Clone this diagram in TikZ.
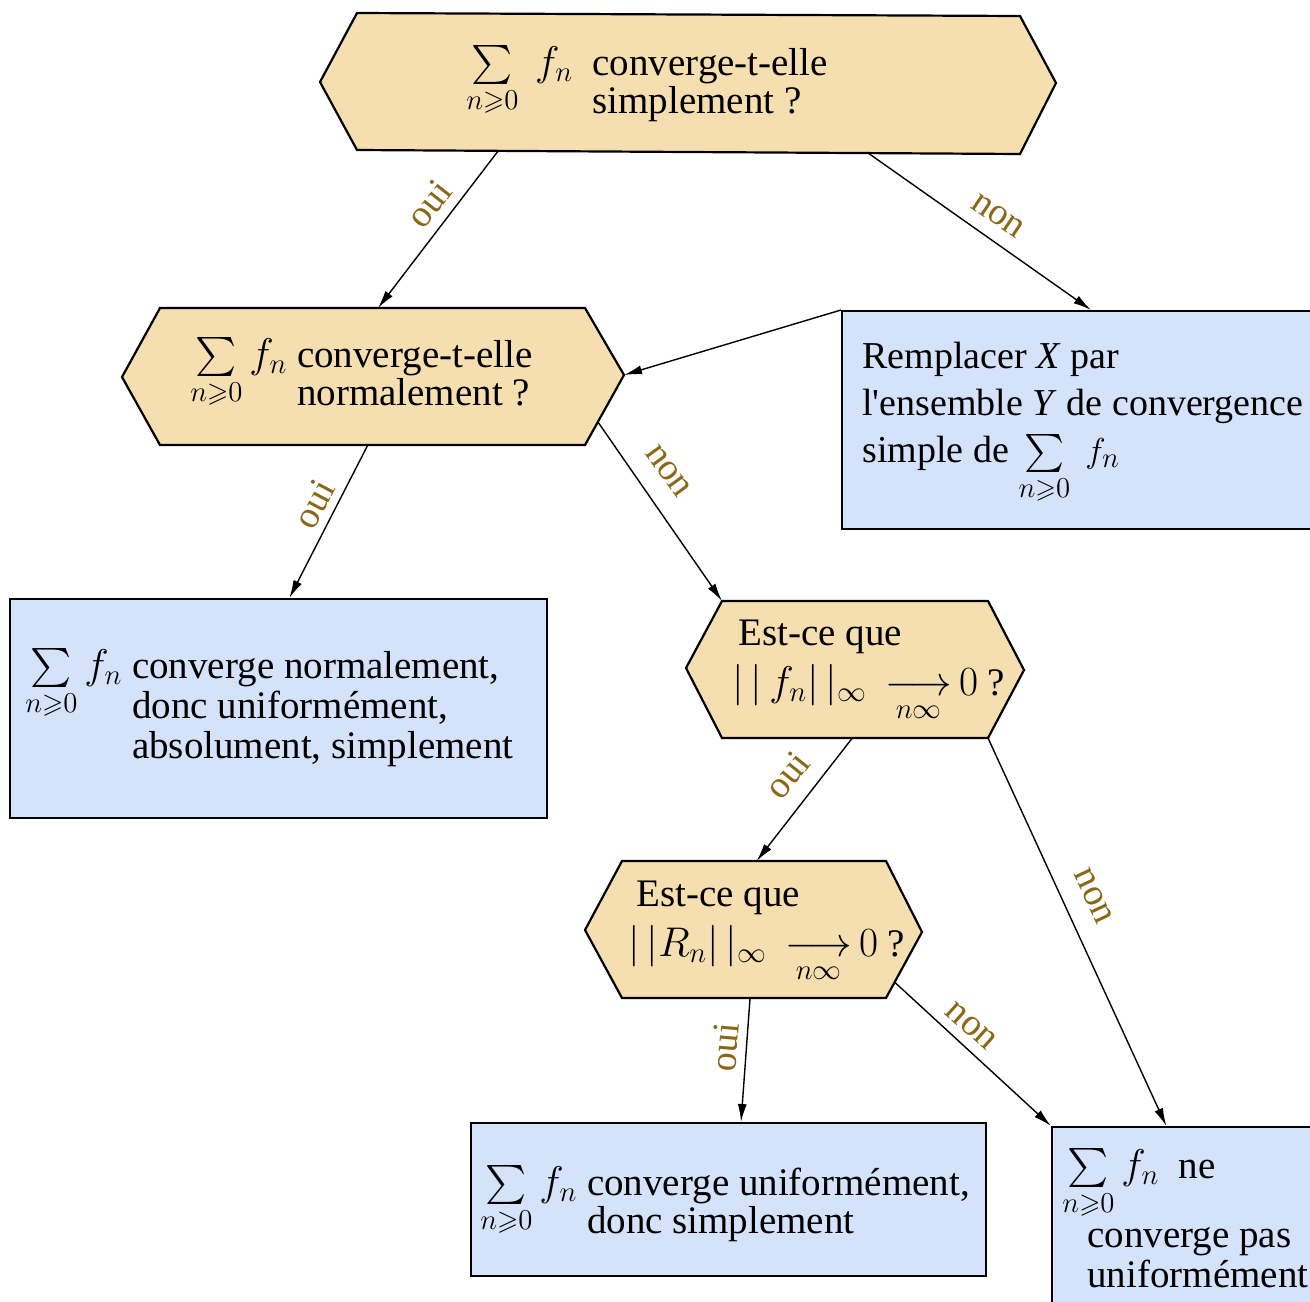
\documentclass[tikz,border=0pt]{standalone}
\usepackage{amsmath,amssymb}
\usepackage{fontspec}
\setmainfont{Liberation Serif}
\usetikzlibrary{arrows.meta,calc}
\definecolor{hexfill}{RGB}{245,222,176}
\definecolor{boxfill}{RGB}{212,226,250}
\definecolor{lblcol}{RGB}{138,104,22}
\tikzset{
  hexshape/.style={draw=black, line width=1.1pt, fill=hexfill, line join=miter},
  boxshape/.style={draw=black, line width=1.1pt, fill=boxfill, rectangle, inner sep=0pt, anchor=north west},
  arr/.style={line width=0.7pt, -{Latex[length=9pt,width=4.5pt]}},
  lbl/.style={text=lblcol, inner sep=0pt, font=\fontsize{19}{19}\selectfont},
  txt/.style={anchor=base west, inner sep=0pt, font=\fontsize{19.5}{#1}\selectfont},
}
\newcommand{\mysumn}{\sum\limits_{n\geqslant 0}}
\begin{document}
\begin{tikzpicture}[x=0.5pt,y=-0.5pt]
\useasboundingbox (0,0) rectangle (1310,1301);
\fill[white] (0,0) rectangle (1310,1301);
\clip (0,0) rectangle (1310,1301);

% ---------- shapes ----------
% H1
\draw[hexshape] (320,82) coordinate (h1w) -- (357,13) coordinate (h1nw) -- (1020,16) coordinate (h1ne)
  -- (1056,83) coordinate (h1e) -- (1020,154) coordinate (h1se) -- (357,150) coordinate (h1sw) -- cycle;
% H2
\draw[hexshape] (122,377) coordinate (h2w) -- (160,308) coordinate (h2nw) -- (585,308) coordinate (h2ne)
  -- (624,375) coordinate (h2e) -- (585,445) coordinate (h2se) -- (160,445) coordinate (h2sw) -- cycle;
% H3
\draw[hexshape] (686,668) coordinate (h3w) -- (722,601) coordinate (h3nw) -- (988,601) coordinate (h3ne)
  -- (1024,670) coordinate (h3e) -- (988,738) coordinate (h3se) -- (722,738) coordinate (h3sw) -- cycle;
% H4
\draw[hexshape] (585,930) coordinate (h4w) -- (622,861) coordinate (h4nw) -- (886,861) coordinate (h4ne)
  -- (922,932) coordinate (h4e) -- (886,998) coordinate (h4se) -- (622,998) coordinate (h4sw) -- cycle;

% boxes
\node[boxshape, minimum width=244.5pt, minimum height=109pt] (R) at (841,310) {};
\node[boxshape, minimum width=268.5pt, minimum height=109.5pt] (A) at (9,598) {};
\node[boxshape, minimum width=257.5pt, minimum height=76.5pt] (B) at (470,1122) {};
\node[boxshape, minimum width=139.5pt, minimum height=97pt] (C) at (1051,1126) {};

% ---------- texts ----------
\node[txt=18.5] (t1) at (466,75) {$\mysumn\ f_n$\ \ \begin{tabular}[t]{@{}l@{}}converge-t-elle\\simplement ?\end{tabular}};
\node[txt=19] (t2) at (190,367) {$\mysumn f_n$\ \begin{tabular}[t]{@{}l@{}}converge-t-elle\\normalement ?\end{tabular}};
\node[txt=23.5, font=\fontsize{19}{23.5}\selectfont] (tR) at (862,368) {\begin{tabular}[t]{@{}l@{}}Remplacer \textit{X} par\\l\textquotesingle ensemble \textit{Y} de convergence\\simple de $\mysumn\ f_n$\end{tabular}};
\node[txt=20] (tA) at (25,678) {$\mysumn f_n$\ \begin{tabular}[t]{@{}l@{}}converge normalement,\\donc uniformément,\\absolument, simplement\end{tabular}};
\node[txt=25] (t3) at (738,645) {\begin{tabular}[t]{@{}l@{}}Est-ce que\\\hspace{-3pt}$|\,|\,f_n|\,|_\infty\; \mathop{\longrightarrow}\limits_{n\infty} 0$ ?\end{tabular}};
\node[txt=25] (t4) at (636,906) {\begin{tabular}[t]{@{}l@{}}Est-ce que\\\hspace{-4pt}$|\,|R_n|\,|_\infty\; \mathop{\longrightarrow}\limits_{n\infty} 0$ ?\end{tabular}};
\node[txt=19] (tB) at (480,1195) {$\mysumn f_n$\ \begin{tabular}[t]{@{}l@{}}converge uniformément,\\donc simplement\end{tabular}};
\node[txt=20] (tC) at (1062,1178) {\begin{tabular}[t]{@{}l@{}}$\mysumn f_n$\ \ ne\\\hspace{12.5pt}converge pas\\\hspace{12.5pt}uniformément\end{tabular}};

% ---------- connectors ----------
\draw[arr] ($(h1sw)!0.213!(h1se)$) -- ($(h2nw)!0.513!(h2ne)$);
\draw[arr] ($(h1sw)!0.771!(h1se)$) -- ($(R.north west)!0.509!(R.north east)$);
\draw[arr] (R.north west) -- (h2e);
\draw[arr] ($(h2sw)!0.489!(h2se)$) -- ($(A.north west)!0.52!(A.north east)$);
\draw[arr] ($(h2e)!0.67!(h2se)$) -- (h3nw);
\draw[arr] ($(h3sw)!0.49!(h3se)$) -- ($(h4nw)!0.51!(h4ne)$);
\draw[arr] (h3se) -- ($(C.north west)!0.41!(C.north east)$);
\draw[arr] ($(h4sw)!0.485!(h4se)$) -- ($(B.north west)!0.524!(B.north east)$);
\draw[arr] ($(h4e)!0.76!(h4se)$) -- (C.north west);

% ---------- labels ----------
\node[lbl, rotate=52] (l1) at (429,204) {oui};
\node[lbl, rotate=-34] (l2) at (998,216) {non};
\node[lbl, rotate=62] (l3) at (314,504) {oui};
\node[lbl, rotate=-54] (l4) at (668,471) {non};
\node[lbl, rotate=51] (l5) at (787,775) {oui};
\node[lbl, rotate=-65] (l6) at (1093,896) {non};
\node[lbl, rotate=85] (l7) at (725,1047) {oui};
\node[lbl, rotate=-42] (l8) at (971,1026) {non};
\end{tikzpicture}
\end{document}
